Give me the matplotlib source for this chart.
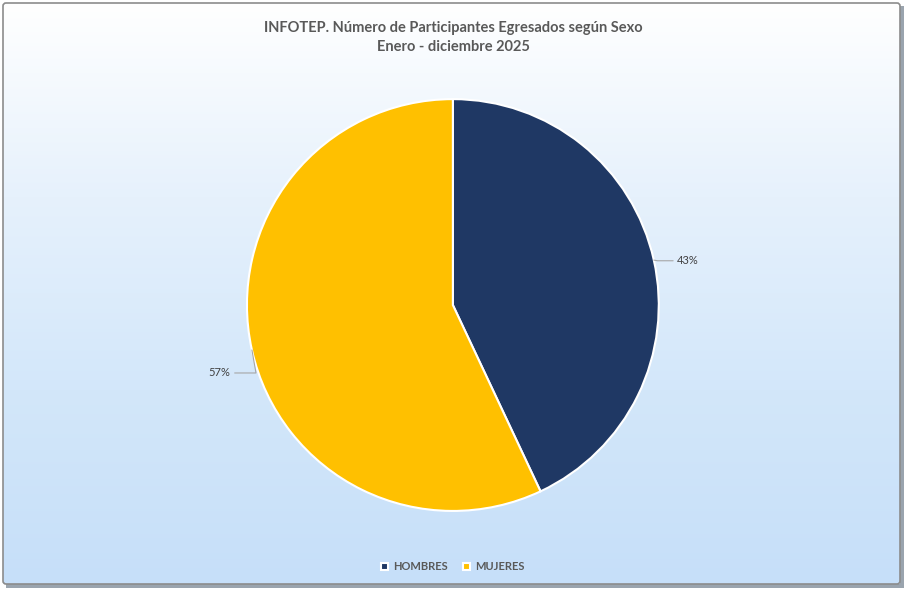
import numpy as np
import matplotlib.pyplot as plt
from matplotlib.colors import LinearSegmentedColormap
from matplotlib.patches import FancyBboxPatch, Rectangle

# ------------------------------------------------------------------
# Data
# ------------------------------------------------------------------
categories = ["HOMBRES", "MUJERES"]
shares = [43, 57]
colors = ["#1F3864", "#FFC000"]
title = "INFOTEP. Número de Participantes Egresados según Sexo\nEnero - diciembre 2025"

plt.rcParams["font.family"] = ["Lato", "DejaVu Sans"]

fig = plt.figure(figsize=(9.06, 5.9), dpi=100)

# ------------------------------------------------------------------
# Background gradient + frame
# ------------------------------------------------------------------
bg = fig.add_axes([0, 0, 1, 1], zorder=0)
bg.set_xlim(0, 906)
bg.set_ylim(590, 0)
bg.axis("off")
grad = np.linspace(0, 1, 256).reshape(-1, 1)
cmap = LinearSegmentedColormap.from_list(
    "bg", ["#ffffff", "#e6f1fc", "#d3e7fa", "#c6dff9"]
)
bg.imshow(grad, cmap=cmap, extent=(3, 900, 584, 3), aspect="auto", zorder=0)
# shadow on right/bottom
bg.add_patch(Rectangle((6, 584), 898, 4, color="#9aa4ae", zorder=1, lw=0))
bg.add_patch(Rectangle((900, 6), 4, 582, color="#9aa4ae", zorder=1, lw=0))
bg.add_patch(
    FancyBboxPatch((3, 3), 897, 581, boxstyle="round,pad=0,rounding_size=3",
                   fill=False, ec="#8c8c8c", lw=1.2, zorder=2)
)

# ------------------------------------------------------------------
# Pie
# ------------------------------------------------------------------
ax = fig.add_axes([0.2725, 0.134, 0.4547, 0.698], zorder=1)
wedges, _ = ax.pie(
    shares,
    colors=colors,
    startangle=90,
    counterclock=False,
    radius=1.0,
    wedgeprops=dict(edgecolor="white", linewidth=1.5),
)
ax.set_xlim(-1, 1)
ax.set_ylim(-1, 1)
ax.set_aspect("equal")

# percentage labels with leader lines
label_pos = [(1.09, 0.215), (-1.08, -0.33)]
conn = ["angle,angleA=0,angleB=170,rad=0", "angle,angleA=0,angleB=-80,rad=0"]
for w, val, pos, cs in zip(wedges, shares, label_pos, conn):
    ang = np.deg2rad((w.theta1 + w.theta2) / 2)
    xy = (np.cos(ang), np.sin(ang))
    ha = "left" if pos[0] > 0 else "right"
    ax.annotate(
        f"{val}%", xy=xy, xytext=pos, ha=ha, va="center",
        fontsize=8, color="#404040",
        arrowprops=dict(arrowstyle="-", color="#a6a6a6", lw=0.8,
                        connectionstyle=cs, shrinkA=1, shrinkB=0),
    )

# ------------------------------------------------------------------
# Title and legend
# ------------------------------------------------------------------
fig.text(0.5, 0.964, title, ha="center", va="top", fontsize=10.5,
         fontweight="bold", color="#595959", linespacing=1.45)

leg = fig.legend(
    wedges, categories, loc="center", bbox_to_anchor=(0.5, 0.039),
    ncol=2, frameon=False, fontsize=8, handlelength=0.6, handleheight=0.6,
    handletextpad=0.5, columnspacing=1.4,
)
for t in leg.get_texts():
    t.set_color("#595959")
    t.set_fontweight("bold")

fig.savefig("out.png", dpi=100)
